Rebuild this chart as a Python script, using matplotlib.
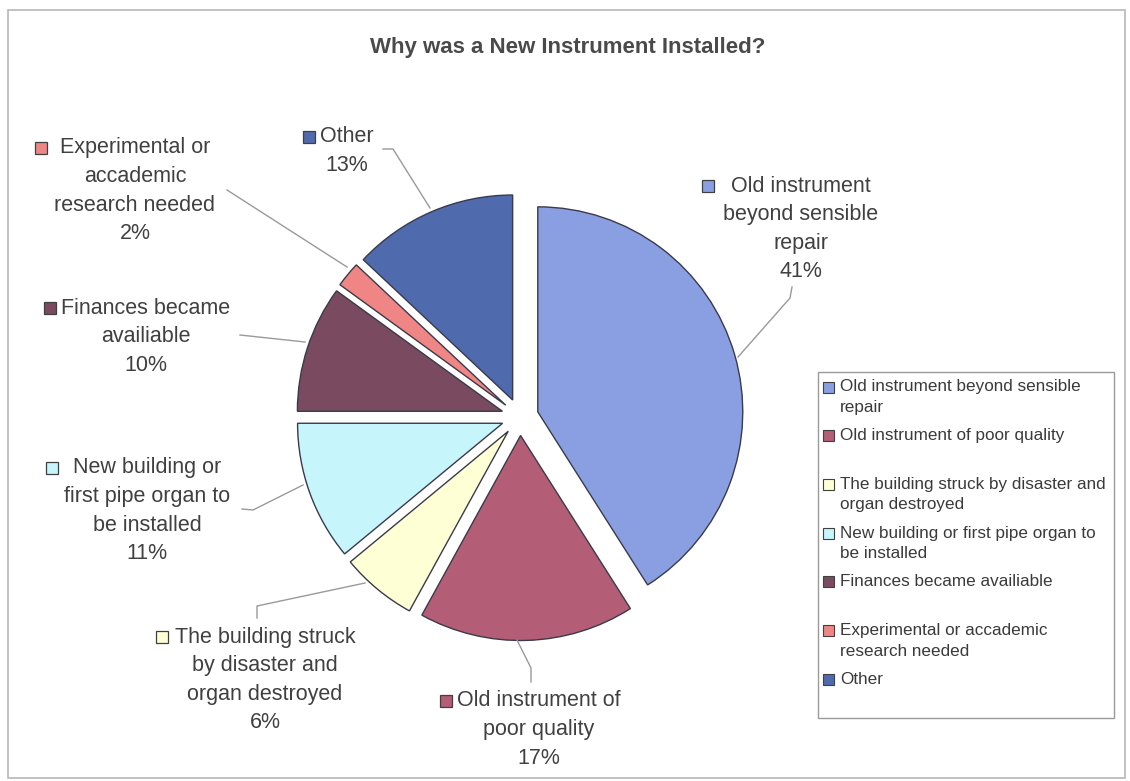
import matplotlib
matplotlib.use("Agg")
import matplotlib.pyplot as plt
from matplotlib.patches import Rectangle

plt.rcParams['font.family'] = ['Liberation Sans', 'DejaVu Sans']

W, H = 1130, 781

values = [41, 17, 6, 11, 10, 2, 13]
colors = ['#8a9fe2', '#b35d76', '#ffffd6', '#c6f5fb', '#7a4a60', '#f08585', '#4f6aad']

# wrapped text for labels next to the slices
pie_lines = [
    ["Old instrument", "beyond sensible", "repair"],
    ["Old instrument of", "poor quality"],
    ["The building struck", "by disaster and", "organ destroyed"],
    ["New building or", "first pipe organ to", "be installed"],
    ["Finances became", "availiable"],
    ["Experimental or", "accademic", "research needed"],
    ["Other"],
]
# wrapped text for the legend box
legend_lines = [
    ["Old instrument beyond sensible", "repair"],
    ["Old instrument of poor quality"],
    ["The building struck by disaster and", "organ destroyed"],
    ["New building or first pipe organ to", "be installed"],
    ["Finances became availiable"],
    ["Experimental or accademic", "research needed"],
    ["Other"],
]

# label placement (pixels from top-left): centre x, first line y, marker gap
label_pos = [(801, 186, 17), (539, 701, 5), (265, 637, 7), (147, 468, 15),
             (146, 308, 5), (135, 148, 13), (347, 137, 5)]
# leader lines (pixel coords, top-left origin)
leaders = [
    [(738, 357), (790, 298), (792, 287)],
    [(517, 640), (531, 668), (531, 682)],
    [(365, 583), (257, 606), (257, 618)],
    [(303, 485), (253, 510), (242, 509)],
    [(305, 342), (240, 335)],
    [(347, 267), (227, 190)],
    [(430, 208), (393, 149), (383, 149)],
]


def Y(py):
    return H - py


fig = plt.figure(figsize=(W / 100, H / 100), dpi=100)
ax = fig.add_axes([0, 0, 1, 1])

ax.pie(values, colors=colors, startangle=90, counterclock=False,
       explode=[18.5] * len(values), radius=205, center=(520, Y(417)),
       wedgeprops=dict(edgecolor='#3a3a4a', linewidth=1.0))
ax.set_xlim(0, W)
ax.set_ylim(0, H)
ax.set_aspect('equal')
ax.axis('off')

# outer frame
ax.add_patch(Rectangle((8, Y(778)), 1117, 768, fill=False, ec='#b8b8b8', lw=1.2))

ax.text(568, Y(47), "Why was a New Instrument Installed?", ha='center', va='center',
        fontsize=16, fontweight='bold', color='#4a4a4a')

renderer = fig.canvas.get_renderer()
fs = 15.5
lh = 28.6
for i, v in enumerate(values):
    cx, y0, gap = label_pos[i]
    lines = pie_lines[i] + [f"{v}%"]
    first = None
    for k, line in enumerate(lines):
        t = ax.text(cx, Y(y0 + k * lh), line, ha='center', va='center',
                    fontsize=fs, color='#404040')
        if k == 0:
            first = t
    bb = first.get_window_extent(renderer)
    ms = 12
    ax.add_patch(Rectangle((bb.x0 - gap - ms, Y(y0) - ms / 2), ms, ms,
                           fc=colors[i], ec='#404040', lw=0.9))
    pts = leaders[i]
    ax.plot([p[0] for p in pts], [Y(p[1]) for p in pts], color='#9a9a9a', lw=1.0)

# legend box
ax.add_patch(Rectangle((818, Y(718)), 296, 346, fill=False, ec='#9a9a9a', lw=1.0))
ly0 = 387
lstep = 48.7
for i, lines in enumerate(legend_lines):
    y = ly0 + i * lstep
    ax.add_patch(Rectangle((823, Y(y) - 5.5), 11, 11, fc=colors[i], ec='#404040', lw=0.8))
    for k, line in enumerate(lines):
        ax.text(840, Y(y + k * 20.5), line, ha='left', va='center',
                fontsize=12.3, color='#3a3a3a')

fig.savefig("out.png", dpi=100)
